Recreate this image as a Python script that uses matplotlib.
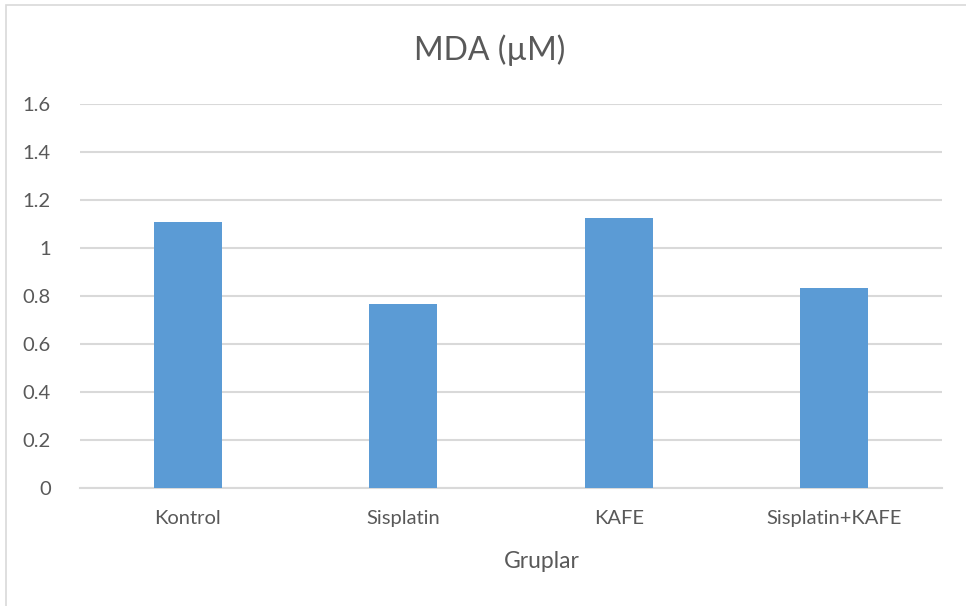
import matplotlib.pyplot as plt
from matplotlib.patches import Rectangle

# data
groups = ["Kontrol", "Sisplatin", "KAFE", "Sisplatin+KAFE"]
mda = [1.11, 0.767, 1.124, 0.835]
yticks = [0, 0.2, 0.4, 0.6, 0.8, 1, 1.2, 1.4, 1.6]
ytick_labels = ["0", "0.2", "0.4", "0.6", "0.8", "1", "1.2", "1.4", "1.6"]

plt.rcParams['font.family'] = ['Lato', 'DejaVu Sans']
text_color = "#595959"
grid_color = "#d9d9d9"

fig = plt.figure(figsize=(9.66, 6.06), dpi=100)
ax = fig.add_axes([80/966, 1 - 488/606, 862/966, 384/606])

x = range(len(groups))
ax.bar(x, mda, width=0.315, color="#5b9bd5", zorder=3)

ax.set_xlim(-0.5, len(groups) - 0.5)
ax.set_ylim(0, 1.6)
ax.set_yticks(yticks)
ax.set_yticklabels(ytick_labels)
ax.set_xticks(list(x))
ax.set_xticklabels(groups)
ax.tick_params(axis="both", length=0, colors=text_color, labelsize=14.5)
ax.tick_params(axis="y", pad=21)
ax.tick_params(axis="x", pad=16)

ax.grid(axis="y", color=grid_color, linewidth=1.5, zorder=0)
for s in ["top", "right", "left"]:
    ax.spines[s].set_visible(False)
ax.spines["bottom"].set_color(grid_color)
ax.spines["bottom"].set_linewidth(1.5)

# axis title sits a little right of the plot centre
fig.text(542/966, 1 - 562/606, "Gruplar", ha="center", va="center",
         color=text_color, fontsize=16.5)
fig.text(490/966, 1 - 50/606, "MDA (µM)", ha="center", va="center",
         color=text_color, fontsize=23)

# chart frame
fig.add_artist(Rectangle((6/966, -0.01), 1, 1 - 5/606 + 0.01, transform=fig.transFigure,
                         fill=False, edgecolor="#d9d9d9", linewidth=1.2))

fig.savefig("out.png", dpi=100)
